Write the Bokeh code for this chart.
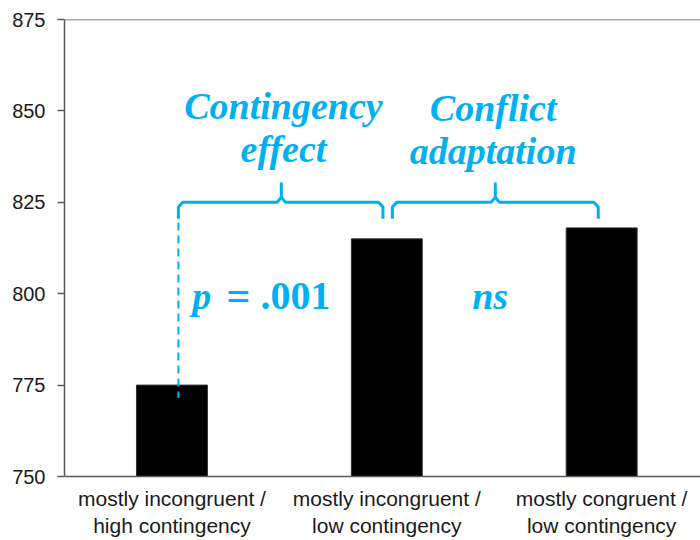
from bokeh.plotting import figure
from bokeh.models import Range1d, FixedTicker, Span
from bokeh.core.properties import value
from bokeh.embed import file_html
from bokeh.resources import INLINE

# ---- data ----
categories = ["mostly incongruent /\nhigh contingency",
              "mostly incongruent /\nlow contingency",
              "mostly congruent /\nlow contingency"]
rt_values = [775, 815, 818]
y_ticks = [750, 775, 800, 825, 850, 875]

x_pos = [i + 0.5 for i in range(len(categories))]

BLUE = "#00B0F0"
GRAY = "#595959"

p = figure(width=700, height=540, output_backend="svg", toolbar_location=None,
           x_range=Range1d(0, 2.96), y_range=Range1d(750, 875),
           min_border_left=64, min_border_right=0, min_border_top=19,
           min_border_bottom=64)
p.outline_line_color = None
p.grid.grid_line_color = None
p.background_fill_color = "white"
p.border_fill_color = "white"

p.vbar(x=x_pos, top=rt_values, bottom=750, width=0.33,
       fill_color="black", line_color="#303030", line_width=1)

# top border line
p.add_layout(Span(location=875, dimension="width", line_color=GRAY, line_width=1.5))

# axes
p.yaxis.ticker = FixedTicker(ticks=y_ticks)
p.yaxis.axis_line_color = GRAY
p.yaxis.axis_line_width = 1.5
p.yaxis.major_tick_line_color = GRAY
p.yaxis.major_tick_line_width = 1.5
p.yaxis.major_tick_out = 7
p.yaxis.major_tick_in = 0
p.yaxis.minor_tick_line_color = None
p.yaxis.major_label_text_font = "Liberation Sans"
p.yaxis.major_label_text_font_size = "20px"
p.yaxis.major_label_text_color = "#1a1a1a"
p.yaxis.major_label_standoff = 12

p.xaxis.ticker = FixedTicker(ticks=x_pos)
p.xaxis.major_label_overrides = {x: c for x, c in zip(x_pos, categories)}
p.xaxis.axis_line_color = GRAY
p.xaxis.axis_line_width = 1.5
p.xaxis.major_tick_line_color = None
p.xaxis.minor_tick_line_color = None
p.xaxis.major_label_text_font = "Liberation Sans"
p.xaxis.major_label_text_font_size = "21px"
p.xaxis.major_label_text_color = "#1a1a1a"
p.xaxis.major_label_standoff = 4

# ---- annotations ----
def brace(x0, x1, xm, y_end, y_line, y_tip):
    dx, dy = 0.02, 1.3
    xs = [x0, x0, x0 + dx, xm - dx, xm, xm, xm, xm + dx, x1 - dx, x1, x1]
    ys = [y_end, y_line - dy, y_line, y_line, y_line + dy, y_tip,
          y_line + dy, y_line, y_line, y_line - dy, y_end]
    p.line(xs, ys, line_color=BLUE, line_width=3)

brace(0.53, 1.482, 1.009, 820.5, 825, 830.4)
brace(1.526, 2.484, 2.005, 820.5, 825, 830.4)

p.line([0.53, 0.53], [819.5, 771.5], line_color=BLUE, line_width=2, line_dash="8 5")


def note(xs, ys, texts, style, align, size="38px"):
    p.text(x=xs, y=ys, text=texts, text_font=value("Liberation Serif"),
           text_font_size=size, text_font_style=style, text_color=BLUE,
           text_align=align, text_baseline="alphabetic")


note([1.019, 1.019], [851.3, 839.6], ["Contingency", "effect"], "bold italic", "center")
note([1.995, 1.995], [850.8, 839.0], ["Conflict", "adaptation"], "bold italic", "center")
note([0.595], [799.5], ["p"], "bold italic", "left")
note([0.81], [799.5], ["="], "bold", "center", "42px")
note([0.912], [799.5], [".001"], "bold", "left", "40px")
note([1.981], [799.5], ["ns"], "bold italic", "center")

open("out.html", "w").write(file_html(p, INLINE))
